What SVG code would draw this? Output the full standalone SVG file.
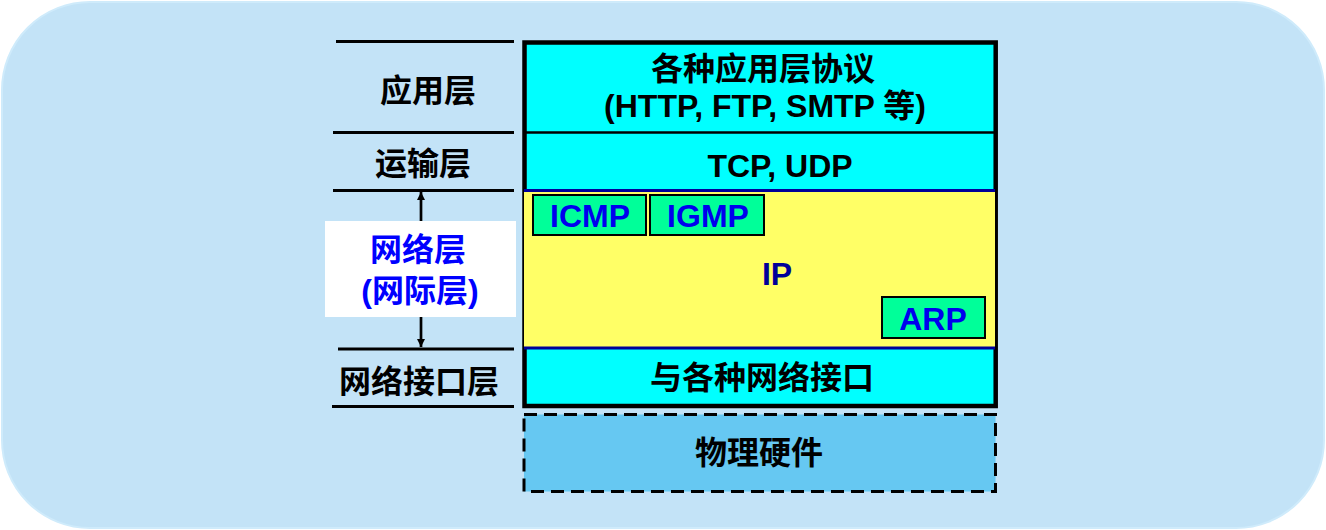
<svg xmlns="http://www.w3.org/2000/svg" width="1326" height="530" viewBox="0 0 1326 530">
<defs>
<style>
.t{font-family:"Liberation Sans","Noto Sans CJK SC",sans-serif;font-weight:bold;font-size:32px;text-anchor:middle;fill:#000}
.b{fill:#0000EE}
.sep{stroke:#000;stroke-width:3}
.nv{stroke:#000099;stroke-width:3}
.g{fill:#00FF99;stroke:#000;stroke-width:2}
</style>
<marker id="ah" viewBox="0 0 10 10" refX="10" refY="5" markerWidth="11" markerHeight="8" markerUnits="userSpaceOnUse" orient="auto">
<path d="M0,0 L10,5 L0,10 Z" fill="#000"/>
</marker>
</defs>
<rect x="2" y="2" width="1322" height="526" rx="88" ry="88" fill="#C3E3F7" stroke="#CFEBFB" stroke-width="2"/>

<g id="left-lines">
<line class="sep" x1="336" y1="41.5" x2="514" y2="41.5"/>
<line class="sep" x1="333" y1="132.5" x2="514" y2="132.5"/>
<line class="sep" x1="333" y1="190.5" x2="514" y2="190.5"/>
<line class="sep" x1="338" y1="349" x2="514" y2="349"/>
<line class="sep" x1="332" y1="406.5" x2="514" y2="406.5"/>
</g>

<g id="connectors">
<line x1="421" y1="221" x2="421" y2="192" stroke="#000" stroke-width="2.7" marker-end="url(#ah)"/>
<line x1="421" y1="317" x2="421" y2="347" stroke="#000" stroke-width="2.7" marker-end="url(#ah)"/>
</g>

<g id="label-app"><text class="t" x="428" y="102">应用层</text></g>
<g id="label-transport"><text class="t" x="423" y="175">运输层</text></g>
<g id="label-network">
<rect x="325" y="221" width="191" height="96" fill="#FFFFFF"/>
<text class="t" x="418" y="261" fill="#0000FF" style="fill:#0000FF">网络层</text>
<text class="t" x="420" y="302" style="fill:#0000FF">(网际层)</text>
</g>
<g id="label-netif"><text class="t" x="419" y="393">网络接口层</text></g>

<g id="stack">
<rect x="524.5" y="42.5" width="471.2" height="363.5" fill="#00FFFF" stroke="#000" stroke-width="4.5"/>
<line x1="524" y1="132.5" x2="996" y2="132.5" stroke="#000" stroke-width="2.6"/>
<rect x="524" y="190.5" width="471" height="157.5" fill="#FFFF66"/>
<line class="nv" x1="524" y1="190.5" x2="995" y2="190.5"/>
<line class="nv" x1="524" y1="348" x2="995" y2="348"/>
</g>

<g id="app-protocols">
<text class="t" x="763" y="80">各种应用层协议</text>
<text class="t" x="765" y="117">(HTTP, FTP, SMTP 等)</text>
</g>
<g id="tcp-udp"><text class="t" x="780" y="177">TCP, UDP</text></g>
<g id="ip"><text class="t" x="777" y="285" style="fill:#000099">IP</text></g>
<g id="icmp"><rect class="g" x="533" y="195" width="113" height="40"/><text class="t b" x="590" y="227">ICMP</text></g>
<g id="igmp"><rect class="g" x="650" y="195" width="114" height="40"/><text class="t b" x="708" y="227">IGMP</text></g>
<g id="arp"><rect class="g" x="882" y="297" width="103" height="41"/><text class="t b" x="933" y="330">ARP</text></g>
<g id="netif"><text class="t" x="762" y="389">与各种网络接口</text></g>

<g id="hardware">
<rect x="524" y="414.5" width="471.5" height="77" fill="#66C8F2" stroke="#000" stroke-width="3" stroke-dasharray="13 7"/>
<text class="t" x="759" y="464">物理硬件</text>
</g>
</svg>
